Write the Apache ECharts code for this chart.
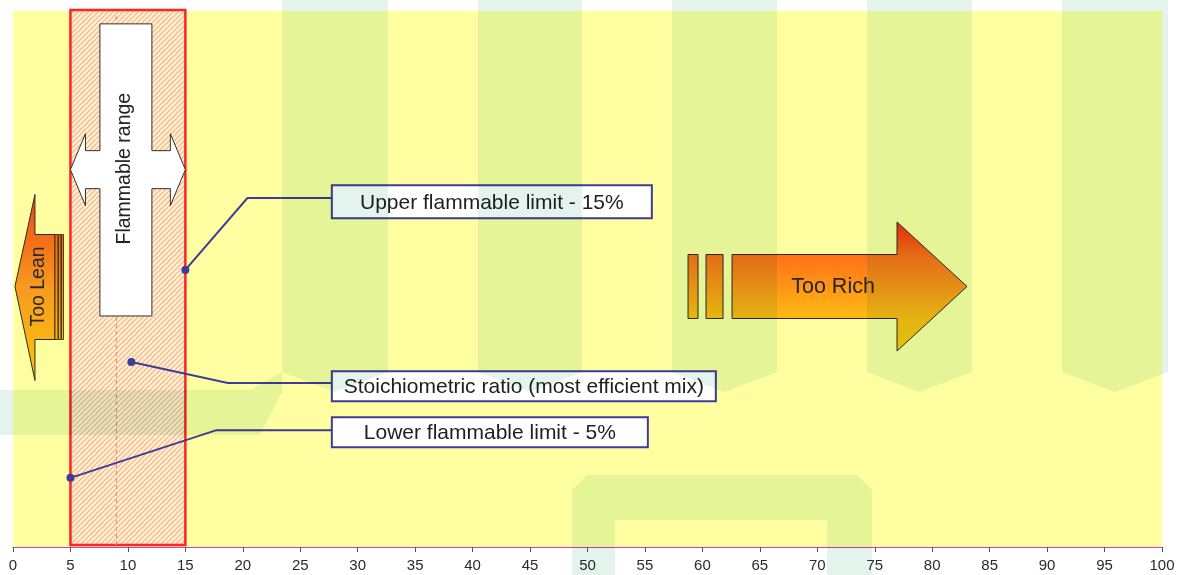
<!DOCTYPE html>
<html>
<head>
<meta charset="utf-8">
<title>Flammable range</title>
<script src="https://cdn.jsdelivr.net/npm/echarts/dist/echarts.min.js"></script>
<style>
  html, body { margin: 0; padding: 0; background: #ffffff; }
  #chart { width: 1178px; height: 575px; }
</style>
</head>
<body>
<div id="chart"></div>
<script>
// Gas concentration in air, % by volume
const axisMin = 0;
const axisMax = 100;
const axisStep = 5;

// Limits of the flammable range and the stoichiometric guide line
const flammableRange = [5, 15];
const stoichiometricLine = 9;

// Callouts: text and the concentration each one points at
const calloutLabels = [
  'Upper flammable limit - 15%',
  'Stoichiometric ratio (most efficient mix)',
  'Lower flammable limit - 5%'
];
const calloutValues = [15, 10.3, 5];

// Zone captions
const zoneLabels = ['Too Lean', 'Flammable range', 'Too Rich'];
const leanArrowTip = 0.17;   // concentration where the lean arrow points
const richArrowTail = 58.75; // concentration where the rich arrow starts

// ---- layout (vertical positions use a hidden 0-100 axis) ----
const layout = {
  calloutDotY: [51.7, 34.5, 12.9],
  calloutElbow: [[20.4, 65.1], [18.7, 30.6], [17.7, 21.8]],
  calloutBoxX: 27.75,
  calloutBoxY: [64.4, 30.0, 21.4],
  calloutBoxW: [320, 384, 316],
  calloutBoxH: [33, 30, 30],
  arrowY: 48.6,
  crossTop: 97.6,
  crossBottom: 43.1,
  crossMid: 70.4
};

const font = '"Liberation Sans", Arial, Helvetica, sans-serif';
const calloutBlue = '#3D3D97';

function vGrad(stops) {
  return new echarts.graphic.LinearGradient(0, 0, 0, 1,
    stops.map(([offset, color]) => ({ offset, color })));
}

// Diagonal hatching used inside the flammable band
function hatchPattern() {
  const s = 5;
  const c = document.createElement('canvas');
  c.width = s; c.height = s;
  const g = c.getContext('2d');
  g.fillStyle = '#FFF2CC';
  g.fillRect(0, 0, s, s);
  g.strokeStyle = '#F7AE92';
  g.lineWidth = 1.15;
  g.beginPath();
  g.moveTo(-1, s + 1); g.lineTo(s + 1, -1);
  g.moveTo(-1, 1); g.lineTo(1, -1);
  g.moveTo(s - 1, s + 1); g.lineTo(s + 1, s - 1);
  g.stroke();
  return c;
}
const hatch = hatchPattern();

const chart = echarts.init(document.getElementById('chart'), null, { renderer: 'canvas' });

const option = {
  animation: false,
  backgroundColor: '#ffffff',
  grid: {
    left: 13, right: 16, top: 11, bottom: 28,
    containLabel: false,
    outerBoundsMode: 'none',
    show: true,
    backgroundColor: '#FFFFA2',
    borderWidth: 0
  },
  xAxis: {
    type: 'value',
    min: axisMin, max: axisMax, interval: axisStep,
    axisLine: { show: true, lineStyle: { color: '#E03CB4', width: 1.2 } },
    axisTick: { show: true, length: 5, lineStyle: { color: '#555555' } },
    axisLabel: { fontSize: 15, color: '#2a2a2a', margin: 11, fontFamily: font, showMaxLabel: true, showMinLabel: true },
    splitLine: { show: false }
  },
  yAxis: { type: 'value', min: 0, max: 100, show: false },
  series: [
    // Flammable band with hatching and red outline
    {
      type: 'custom', coordinateSystem: 'cartesian2d', clip: false, z: 2,
      data: [[flammableRange[0], flammableRange[1]]],
      renderItem(params, api) {
        const p0 = api.coord([api.value(0), 0]);
        const p1 = api.coord([api.value(1), 100]);
        return {
          type: 'rect',
          shape: { x: p0[0], y: p1[1] - 1, width: p1[0] - p0[0], height: p0[1] - p1[1] - 1 },
          style: { fill: { image: hatch, repeat: 'repeat' }, stroke: '#FF2424', lineWidth: 2.5 }
        };
      }
    },
    // Stoichiometric guide
    {
      type: 'custom', coordinateSystem: 'cartesian2d', clip: false, z: 3,
      data: [[stoichiometricLine]],
      renderItem(params, api) {
        const a = api.coord([api.value(0), 0]);
        const b = api.coord([api.value(0), 99]);
        return {
          type: 'line',
          shape: { x1: a[0], y1: a[1] - 2, x2: b[0], y2: b[1] },
          style: { stroke: '#F08A8A', lineWidth: 1.2, lineDash: [4, 3] }
        };
      }
    },
    // "Flammable range" cross-shaped double arrow
    {
      type: 'custom', coordinateSystem: 'cartesian2d', clip: false, z: 4,
      data: [[flammableRange[0], flammableRange[1]]],
      renderItem(params, api) {
        const L = api.coord([api.value(0), layout.crossMid]);
        const R = api.coord([api.value(1), layout.crossMid]);
        const top = api.coord([0, layout.crossTop])[1];
        const bot = api.coord([0, layout.crossBottom])[1];
        const l = L[0], r = R[0], m = L[1];
        const cx = (l + r) / 2 - 2, hw = 26, sh = 19, hh = 36, hl = 15;
        const pts = [
          [cx - hw, top], [cx + hw, top], [cx + hw, m - sh], [r - hl, m - sh], [r - hl, m - hh],
          [r, m], [r - hl, m + hh], [r - hl, m + sh], [cx + hw, m + sh], [cx + hw, bot],
          [cx - hw, bot], [cx - hw, m + sh], [l + hl, m + sh], [l + hl, m + hh], [l, m],
          [l + hl, m - hh], [l + hl, m - sh], [cx - hw, m - sh]
        ];
        return {
          type: 'group',
          children: [
            { type: 'polygon', shape: { points: pts }, style: { fill: '#FFFFFF', stroke: '#2f2f2f', lineWidth: 1 } },
            {
              type: 'text', x: cx - 1, y: m - 1, rotation: Math.PI / 2,
              style: { text: zoneLabels[1], fontSize: 19.5, fontFamily: font, fill: '#222222', align: 'center', verticalAlign: 'middle' }
            }
          ]
        };
      }
    },
    // "Too Lean" arrow pointing to low concentrations
    {
      type: 'custom', coordinateSystem: 'cartesian2d', clip: false, z: 4,
      data: [[leanArrowTip, layout.arrowY]],
      renderItem(params, api) {
        const [tx, ty] = api.coord([api.value(0), api.value(1)]);
        const grad = vGrad([[0, '#EE4410'], [0.5, '#F89A20'], [1, '#F8C808']]);
        const shaftGrad = vGrad([[0, '#F06A14'], [1, '#F8B80C']]);
        const head = [
          [tx, ty], [tx + 20, ty - 92], [tx + 20, ty - 52], [tx + 40, ty - 52],
          [tx + 40, ty + 53], [tx + 20, ty + 53], [tx + 20, ty + 94]
        ];
        const bars = [[40, 3], [43.5, 2.5], [46.5, 2]].map(([dx, w]) => ({
          type: 'rect', shape: { x: tx + dx, y: ty - 52, width: w, height: 105 },
          style: { fill: shaftGrad, stroke: '#3a2a10', lineWidth: 0.9 }
        }));
        return {
          type: 'group',
          children: [
            { type: 'polygon', shape: { points: head }, style: { fill: grad, stroke: '#2a2a2a', lineWidth: 1 } },
            ...bars,
            {
              type: 'text', x: tx + 24, y: ty, rotation: Math.PI / 2,
              style: { text: zoneLabels[0], fontSize: 19.5, fontFamily: font, fill: '#2a2a2a', align: 'center', verticalAlign: 'middle' }
            }
          ]
        };
      }
    },
    // "Too Rich" arrow pointing to high concentrations
    {
      type: 'custom', coordinateSystem: 'cartesian2d', clip: false, z: 4,
      data: [[richArrowTail, layout.arrowY]],
      renderItem(params, api) {
        const [ax, ay] = api.coord([api.value(0), api.value(1)]);
        const grad = vGrad([[0, '#FF2C08'], [0.26, '#FF7018'], [0.75, '#FFBC14'], [1, '#FFCC06']]);
        const barGrad = vGrad([[0, '#FF7018'], [1, '#FFC010']]);
        const body = [
          [ax + 44, ay - 32], [ax + 209, ay - 32], [ax + 209, ay - 64.5], [ax + 279, ay],
          [ax + 209, ay + 64.5], [ax + 209, ay + 32], [ax + 44, ay + 32]
        ];
        return {
          type: 'group',
          children: [
            { type: 'rect', shape: { x: ax, y: ay - 32, width: 10, height: 64 }, style: { fill: barGrad, stroke: '#2a2a2a', lineWidth: 1 } },
            { type: 'rect', shape: { x: ax + 18, y: ay - 32, width: 17, height: 64 }, style: { fill: barGrad, stroke: '#2a2a2a', lineWidth: 1 } },
            { type: 'polygon', shape: { points: body }, style: { fill: grad, stroke: '#2a2a2a', lineWidth: 1 } },
            {
              type: 'text', x: ax + 145, y: ay + 1,
              style: { text: zoneLabels[2], fontSize: 21.5, fontFamily: font, fill: '#262626', align: 'center', verticalAlign: 'middle' }
            }
          ]
        };
      }
    },
    // Callout boxes with leader lines
    {
      type: 'custom', coordinateSystem: 'cartesian2d', clip: false, z: 6,
      data: calloutValues.map((v, i) => [
        v, layout.calloutDotY[i],
        layout.calloutElbow[i][0], layout.calloutElbow[i][1],
        layout.calloutBoxX, layout.calloutBoxY[i]
      ]),
      renderItem(params, api) {
        const i = params.dataIndex;
        const dot = api.coord([api.value(0), api.value(1)]);
        const elbow = api.coord([api.value(2), api.value(3)]);
        const box = api.coord([api.value(4), api.value(5)]);
        const w = layout.calloutBoxW[i], h = layout.calloutBoxH[i];
        return {
          type: 'group',
          children: [
            { type: 'polyline', shape: { points: [dot, elbow, [box[0], elbow[1]]] }, style: { stroke: calloutBlue, lineWidth: 2, fill: null } },
            { type: 'circle', shape: { cx: dot[0], cy: dot[1], r: 4 }, style: { fill: calloutBlue } },
            { type: 'rect', shape: { x: box[0], y: box[1] - h / 2, width: w, height: h }, style: { fill: '#FFFFFF', stroke: calloutBlue, lineWidth: 2 } },
            {
              type: 'text', x: box[0] + w / 2, y: box[1] + 1,
              style: { text: calloutLabels[i], fontSize: 21, fontFamily: font, fill: '#1E1E1E', align: 'center', verticalAlign: 'middle' }
            }
          ]
        };
      }
    }
  ],
  // Soft green background bands, tinted over the whole drawing
  graphic: {
    elements: [
      [282, 388], [478, 582], [672, 777], [867, 972], [1062, 1168]
    ].map(([x0, x1]) => ({
      type: 'polygon', z: 50, silent: true,
      shape: { points: [[x0, 0], [x1, 0], [x1, 372], [(x0 + x1) / 2, 392], [x0, 372]] },
      style: { fill: '#E4F4EC', blend: 'multiply' }
    })).concat([
      {
        type: 'polygon', z: 50, silent: true,
        shape: { points: [[0, 390], [250, 390], [282, 372], [282, 392], [260, 435], [0, 435]] },
        style: { fill: '#E4F4EC', blend: 'multiply' }
      },
      {
        type: 'polygon', z: 50, silent: true,
        shape: { points: [[572, 575], [572, 490], [587, 475], [857, 475], [872, 490], [872, 575], [827, 575], [827, 520], [615, 520], [615, 575]] },
        style: { fill: '#E4F4EC', blend: 'multiply' }
      }
    ])
  }
};

chart.setOption(option);
</script>
</body>
</html>
